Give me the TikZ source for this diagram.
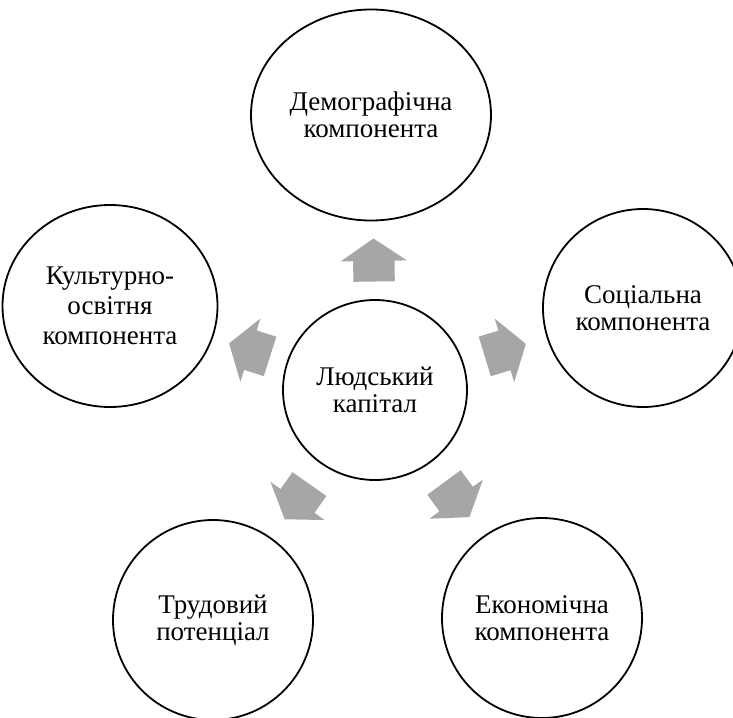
\documentclass[tikz,border=0pt]{standalone}
\usepackage{fontspec}
\setmainfont{Liberation Serif}
\usetikzlibrary{shapes.geometric, shapes.arrows, calc}
\definecolor{arrowgray}{HTML}{A6A6A6}

\begin{document}
\begin{tikzpicture}[x=1pt, y=-1pt,
		comp/.style={ellipse, draw, line width=1.8pt, inner sep=0pt, align=center,
			font=\fontsize{27}{27}\selectfont},
		blockarrow/.style={single arrow, fill=arrowgray, draw=none, inner xsep=0pt, inner ysep=20.5pt,
			minimum height=43pt, minimum width=66pt, anchor=tail,
			single arrow head extend=12.5pt, single arrow tip angle=112}]
		\useasboundingbox (0,0) rectangle (733,717);
		\node[comp, minimum width=184pt, minimum height=180pt] (hub) at (375,390) {Людський\\капітал};
		\node[comp, minimum width=240pt, minimum height=211pt] (demo) at (371,115) {Демографічна\\компонента};
		\node[comp, minimum width=200pt, minimum height=198pt] (soc) at (643,308) {Соціальна\\компонента};
		\node[comp, minimum width=200pt, minimum height=200pt] (econ) at (542,618) {Економічна\\компонента};
		\node[comp, minimum width=200pt, minimum height=200pt] (labor) at (213,620) {Трудовий\\потенціал};
		\node[comp, minimum width=215pt, minimum height=202pt] (cult) at (110,306) {Культурно-\\[3pt]освітня\\[3pt]компонента};
		\foreach \t in {demo, soc, econ, labor, cult} {
			\path let \p1 = ($(\t.center)-(hub.center)$), \n1 = {atan2(\y1,\x1)}, \n2 = {\n1+180} in
				($(hub.\n1)!0.5!(\t.\n2)!21.5pt!(hub.\n1)$) node[blockarrow, rotate=\n1] (arr-\t) {};
		}
	\end{tikzpicture}
\end{document}
